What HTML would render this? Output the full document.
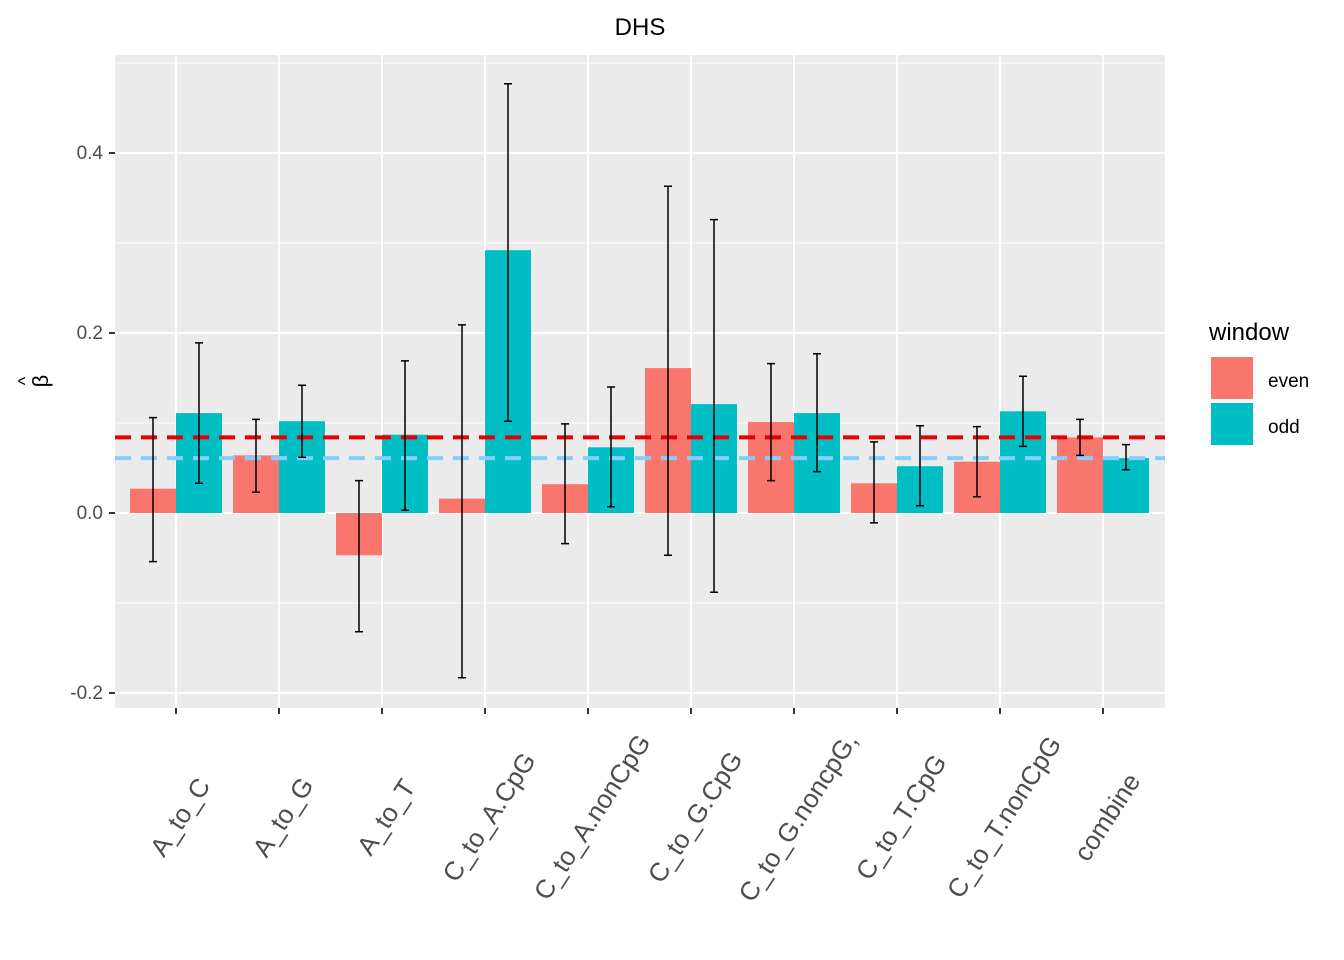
<!DOCTYPE html>
<html><head><meta charset="utf-8"><style>
body{margin:0;background:#fff}
svg{display:block;font-family:"Liberation Sans",Arial,sans-serif}
</style></head><body>
<svg id="chart" width="1344" height="960">
<text x="640" y="35" text-anchor="middle" font-size="24" fill="#000">DHS</text>
<rect x="115" y="55" width="1050" height="653" fill="#ebebeb"/>
<g id="grid"></g><g id="bars"></g><g id="lines"></g><g id="errs"></g><g id="axes"></g>
<g>
<text transform="translate(48,381) rotate(-90)" text-anchor="middle" font-size="22" fill="#000">β</text>
<text transform="translate(31,381) rotate(-90)" text-anchor="middle" font-size="18" fill="#000">^</text>
</g>
<g>
<text x="1209" y="340" font-size="24" fill="#000">window</text>
<rect x="1211" y="357" width="42" height="42" fill="#f8766d"/>
<text x="1268" y="387" font-size="19" fill="#000">even</text>
<rect x="1211" y="403" width="42" height="42" fill="#00bfc4"/>
<text x="1268" y="433" font-size="19" fill="#000">odd</text>
</g>
</svg>
<script>
const categories=["A_to_C","A_to_G","A_to_T","C_to_A.CpG","C_to_A.nonCpG","C_to_G.CpG","C_to_G.noncpG,","C_to_T.CpG","C_to_T.nonCpG","combine"];
const evenVals=[0.027,0.064,-0.047,0.016,0.032,0.161,0.101,0.033,0.057,0.084];
const oddVals=[0.111,0.102,0.087,0.292,0.073,0.121,0.111,0.052,0.113,0.061];
const evenHi=[0.106,0.104,0.036,0.209,0.099,0.363,0.166,0.079,0.096,0.104];
const evenLo=[-0.054,0.023,-0.132,-0.183,-0.034,-0.047,0.036,-0.011,0.018,0.064];
const oddHi=[0.189,0.142,0.169,0.477,0.140,0.326,0.177,0.097,0.152,0.076];
const oddLo=[0.033,0.062,0.003,0.102,0.007,-0.088,0.046,0.008,0.074,0.048];
const refEven=0.084, refOdd=0.061;
const yTicks=[-0.2,0,0.2,0.4];
const yTickLabels=["-0.2","0.0","0.2","0.4"];
const yMinor=[-0.1,0.1,0.3,0.5];
const NS="http://www.w3.org/2000/svg";
const y=v=>513-900*v;
const x=i=>176+103*i;
function mk(parent,tag,attrs){const e=document.createElementNS(NS,tag);for(const k in attrs)e.setAttribute(k,attrs[k]);document.getElementById(parent).appendChild(e);return e;}
yMinor.forEach(v=>{const e=mk('grid','line',{x1:115,x2:1165,y1:y(v),y2:y(v),stroke:'#fff','stroke-width':1});

});
yTicks.forEach((v,i)=>{const e=mk('grid','line',{x1:115,x2:1165,y1:y(v),y2:y(v),stroke:'#fff','stroke-width':2});


const t=mk('axes','line',{x1:109,x2:115,y1:y(v),y2:y(v),stroke:'#333','stroke-width':2});


const l=mk('axes','text',{x:103,y:y(v)+6,'text-anchor':'end','font-size':19,fill:'#4d4d4d'});l.textContent=yTickLabels[i];

});
categories.forEach((c,i)=>{const cx=x(i);
const g=mk('grid','line',{x1:cx,x2:cx,y1:55,y2:708,stroke:'#fff','stroke-width':2});


const ev=evenVals[i],od=oddVals[i];
const b1=mk('bars','rect',{x:cx-46,width:46,y:Math.min(y(ev),y(0)),height:Math.abs(y(ev)-y(0)),fill:'#f8766d'});


const b2=mk('bars','rect',{x:cx,width:46,y:Math.min(y(od),y(0)),height:Math.abs(y(od)-y(0)),fill:'#00bfc4'});


[[cx-23,evenHi[i],evenLo[i],'even'],[cx+23,oddHi[i],oddLo[i],'odd']].forEach(([ex,hi,lo,s])=>{
const p=mk('errs','path',{d:`M${ex-4},${y(hi)}H${ex+4}M${ex},${y(hi)}V${y(lo)}M${ex-4},${y(lo)}H${ex+4}`,stroke:'#000','stroke-width':1.5,fill:'none'});

});
const t=mk('axes','line',{x1:cx,x2:cx,y1:708,y2:714,stroke:'#333','stroke-width':2});


const l=mk('axes','text',{transform:`translate(${cx+4},817) rotate(-57)`,'text-anchor':'middle','dominant-baseline':'central','font-size':26,fill:'#4d4d4d'});l.textContent=c;

});
const r1=mk('lines','line',{x1:115,x2:1165,y1:y(refEven),y2:y(refEven),stroke:'#e60000','stroke-width':4,'stroke-dasharray':'16,10'});


const r2=mk('lines','line',{x1:115,x2:1165,y1:y(refOdd),y2:y(refOdd),stroke:'#87cefa','stroke-width':4,'stroke-dasharray':'16,10'});


</script>
</body></html>
